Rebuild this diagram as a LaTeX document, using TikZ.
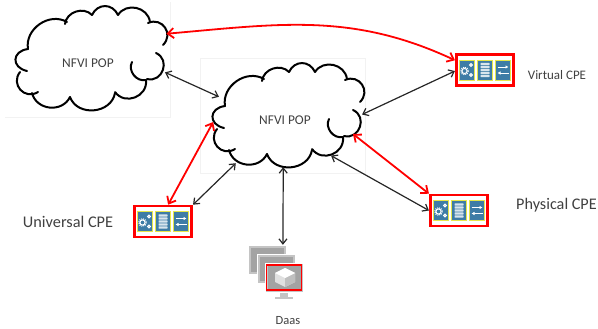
\documentclass[tikz,border=0pt]{standalone}
\usepackage{fontspec}
\setmainfont{Carlito}
\usetikzlibrary{shapes, calc, arrows, arrows.meta, positioning}

\definecolor{iconblue}{HTML}{3E7CA6}
\definecolor{iconyellow}{HTML}{E6E64B}
\definecolor{labelgrey}{HTML}{404040}
\definecolor{monitorgrey}{HTML}{A3A3A3}
\definecolor{framegrey}{HTML}{C4C4C4}

\tikzset{
  pop/.style={ellipse, minimum width=144pt, minimum height=100pt, inner sep=0pt, text=labelgrey, text height=15pt, font=\fontsize{13.4pt}{15pt}\selectfont},
  cpe/.style={draw=red, line width=2.6pt, fill=white, minimum width=57.5pt, minimum height=31pt, inner sep=0pt},
  tile/.style={draw=iconyellow, line width=0.9pt, fill=iconblue, minimum width=15pt, minimum height=20pt, inner sep=0pt},
  blackarrow/.style={{Straight Barb[length=5pt,width=8pt]}-{Straight Barb[length=5pt,width=8pt]}, line width=1.2pt, black!85},
  redarrow/.style={{Straight Barb[length=6pt,width=10pt]}-{Straight Barb[length=6pt,width=10pt]}, line width=1.8pt, red},
  bump/.style={line width=2pt, black, line cap=round},
  faint/.style={black!5, line width=0.6pt},
  pics/popcloud/.style={code={
    \foreach \xa/\ya/\xb/\yb/\bendby/\loose in {-60/-11/-61/11/80/1.9, -68/12/-50/32/80/1.5, -56/33/-18/37/70/1.2, -18/37/27/33/75/1.2, 27/32/58/20/75/1.3,
                          44/2/58/20/65/1.1, 59/19/68/-7/85/1.5, 75/-15/60/-37/80/1.5, 62/-38/30/-45/70/1.2, 30/-45/4/-45/65/1.3,
                          4/-45/-23/-36/65/1.1, -21/-38/-60/-11/65/1.1}
      \draw[bump] (\xa,\ya) to[bend right=\bendby, looseness=\loose] (\xb,\yb);
  }},
  pics/cpeicons/.style={code={
    \node[tile] (gears) at (-18,0) {};
    \node[tile] (stack) at (0,0) {};
    \node[tile] (swap) at (18,0) {};
    \draw[white, line width=1pt] (-20.5,1) circle (2.6) (-14,-5) circle (1.4) (-14,5) circle (1.4);
    \draw[white, line width=1pt, dash pattern=on 1pt off 1pt] (-20.5,1) circle (3.8);
    \foreach \y in {-6,-3,0,3,6}
      \fill[white!80!iconblue, rounded corners=0.5pt] (-4.5,\y-1.1) rectangle (4.5,\y+1.1);
    \draw[white, line width=0.9pt, -{Latex[length=3pt,width=3.5pt]}] (12.5,-3) -- (23.5,-3);
    \draw[white, line width=0.9pt, -{Latex[length=3pt,width=3.5pt]}] (23.5,3) -- (12.5,3);
  }},
  pics/screen/.style={code={
    \fill[framegrey] (15,29) rectangle (23,34);
    \fill[framegrey] (10,34) rectangle (28,36);
    \filldraw[draw=white, fill=framegrey, line width=0.6pt] (0,0) rectangle (38,29);
    \fill[monitorgrey] (2.5,2.5) rectangle (35.5,26.5);
  }}
}

\begin{document}
\begin{tikzpicture}[x=1pt, y=-1pt, >=to]

\useasboundingbox (0,0) rectangle (598,329);

% pale edges of the pasted images
\draw[faint] (5,117) -- (170,117) -- (170,2);
\draw[faint] (200,173) -- (200,58) -- (365,58) -- (365,173) -- cycle;

\node[pop] (popA) at (88,60) {NFVI POP};
\node[pop] (popB) at (285,117) {NFVI POP};
\pic at (88,60) {popcloud};
\pic at (285,117) {popcloud};

\node[cpe] (cpeV) at (485,70) {};
\node[cpe] (cpeP) at (459,210.5) {};
\node[cpe] (cpeU) at (163,221.5) {};
\pic at (cpeV) {cpeicons};
\pic at (cpeP) {cpeicons};
\pic at (cpeU) {cpeicons};

\node[minimum width=55pt, minimum height=55pt, inner sep=0pt] (daas) at (275.5,272.5) {};
\pic at (248,245) {screen};
\pic at (257,254) {screen};
\pic at (265,263) {screen};
\draw[red, line width=1.3pt] (266.5,265) rectangle (301.5,290);
\fill[black!12] (285,268) -- (295,273) -- (295,282) -- (285,287) -- (275,282) -- (275,273) -- cycle;
\fill[black!25] (285,278) -- (295,273) -- (295,282) -- (285,287) -- cycle;
\fill[white] (285,268) -- (295,273) -- (285,278) -- (275,273) -- cycle;

\node[text=labelgrey, font=\fontsize{13pt}{15pt}\selectfont] (labelV) at (557,75) {Virtual CPE};
\node[text=labelgrey, font=\fontsize{16.2pt}{18pt}\selectfont] (labelP) at (556.5,205) {Physical CPE};
\node[text=labelgrey, font=\fontsize{16.3pt}{18pt}\selectfont] (labelU) at (68,222) {Universal CPE};
\node[text=labelgrey, font=\fontsize{12.5pt}{14pt}\selectfont] (labelD) at (288,321) {Daas};

\draw[redarrow] ([shift={(13pt,5pt)}] popA.18) to[out=5, in=155] (cpeV.162);
\draw[blackarrow] ([xshift=7pt] popA.-10) -- (popB.163);
\draw[blackarrow] ([xshift=5pt] popB.2) -- (cpeV.182);
\draw[redarrow] (popB.184) -- (cpeU.73);
\draw[blackarrow] ([shift={(-6pt,-6pt)}] popB.223) -- (cpeU.north east);
\draw[blackarrow] (popB.268) -- (daas.75);
\draw[blackarrow] (popB.-40) -- (cpeP.west);
\draw[redarrow] (popB.-14) -- (cpeP.north west);

\end{tikzpicture}
\end{document}
